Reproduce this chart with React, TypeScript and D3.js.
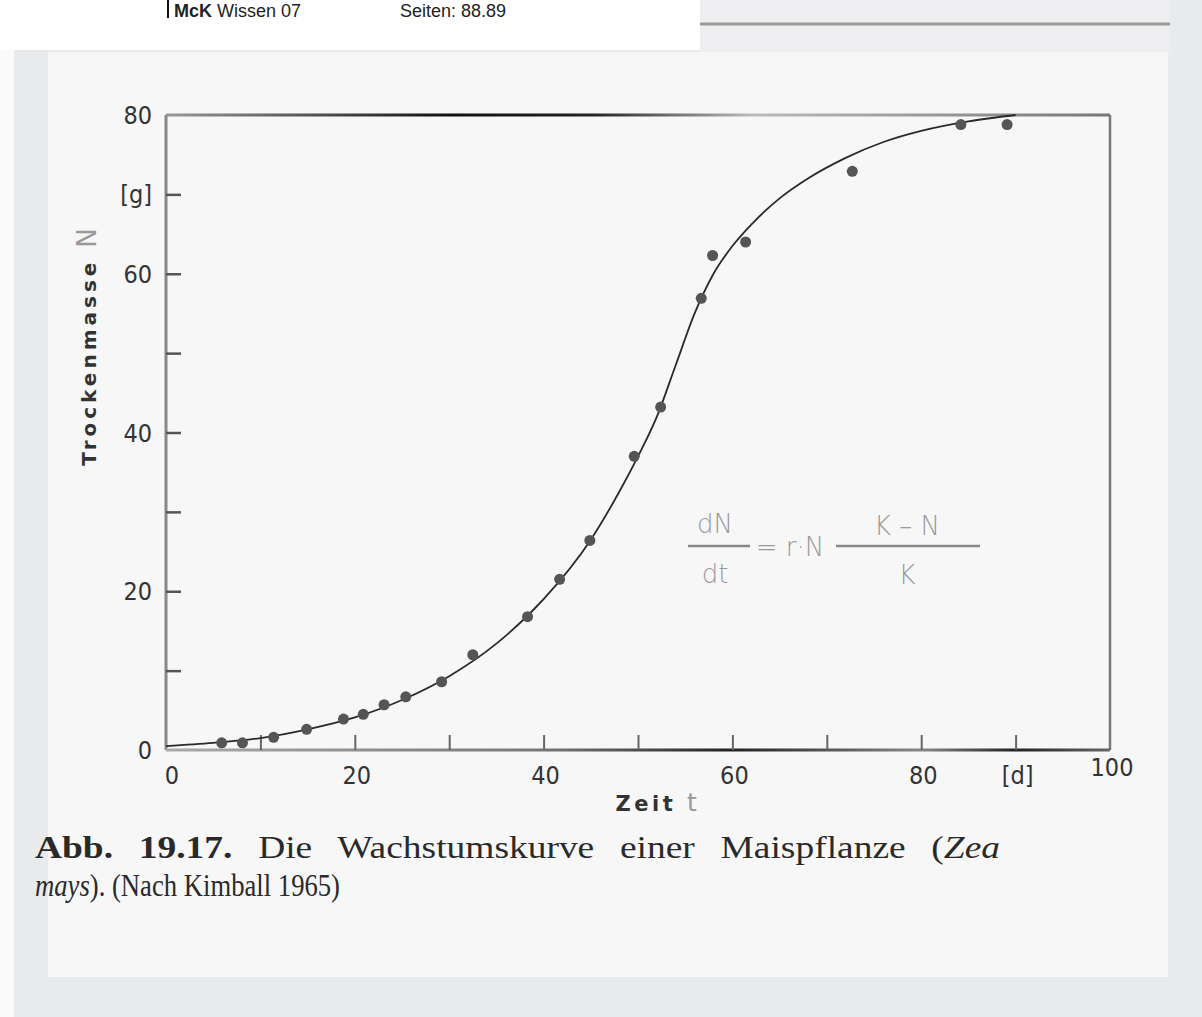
import React, { useEffect, useRef } from "react";
import * as d3 from "d3";

// measured dry mass of the maize plant (points)
const days = [5.9, 8.1, 11.4, 14.9, 18.8, 20.9, 23.1, 25.4, 29.2, 32.5, 38.3, 41.7, 44.9, 49.6, 52.4, 56.7, 57.9, 61.4, 72.7, 84.2, 89.1];
const mass = [0.9, 0.9, 1.6, 2.6, 3.9, 4.5, 5.7, 6.7, 8.6, 12.0, 16.8, 21.5, 26.4, 37.0, 43.2, 56.9, 62.3, 64.0, 72.9, 78.8, 78.8];

// the drawn growth curve
const curveDays = [0, 5, 10, 15, 20, 25, 30, 35, 40, 45, 48, 50, 52, 54, 56, 58, 60, 62, 65, 68, 72, 76, 80, 85, 90];
const curveMass = [0.5, 0.9, 1.5, 2.6, 4.1, 6.3, 9.3, 13.4, 19.0, 26.5, 32.5, 37.0, 42.0, 48.5, 55.0, 60.0, 63.5, 66.2, 69.5, 72.0, 74.6, 76.6, 78.0, 79.2, 80.0];

const xTickValues = [10, 20, 30, 40, 50, 60, 70, 80, 90];
const yTickValues = [10, 20, 30, 40, 50, 60, 70];
const xLabels = ["0", "20", "40", "60", "80", "[d]", "100"];
const xLabelPos = [0, 20, 40, 60, 80, 90, 100];
const yLabels = ["0", "20", "40", "60", "[g]", "80"];
const yLabelPos = [0, 20, 40, 60, 70, 80];

const W = 1202;
const H = 1017;

export default function App() {
  const xAxisRef = useRef<SVGGElement>(null);
  const yAxisRef = useRef<SVGGElement>(null);

  const x = d3.scaleLinear().domain([0, 100]).range([166, 1110]);
  const y = d3.scaleLinear().domain([0, 80]).range([750, 115]);

  const pts = days.map((d, i) => [d, mass[i]] as [number, number]);
  const fit = curveDays.map((d, i) => [d, curveMass[i]] as [number, number]);
  const line = d3
    .line<[number, number]>()
    .x((d) => x(d[0]))
    .y((d) => y(d[1]))
    .curve(d3.curveMonotoneX);

  useEffect(() => {
    // inner ticks only; labels are placed separately
    const xa = d3.axisTop(x).tickValues(xTickValues).tickSize(15).tickFormat(() => "");
    const ya = d3.axisRight(y).tickValues(yTickValues).tickSize(15).tickFormat(() => "");
    const gx = d3.select(xAxisRef.current).call(xa);
    const gy = d3.select(yAxisRef.current).call(ya);
    gx.select(".domain").remove();
    gy.select(".domain").remove();
    gx.selectAll("line").attr("stroke", "#666").attr("stroke-width", 2);
    gy.selectAll("line").attr("stroke", "#555").attr("stroke-width", 2.5);
  }, []);

  const tickFont = "'Liberation Sans Narrow', 'DejaVu Sans Condensed', sans-serif";

  return (
    <svg width={W} height={H} style={{ position: "absolute", left: 0, top: 0 }}>
      <defs>
        <linearGradient id="topEdge" gradientUnits="userSpaceOnUse" x1={166} x2={1110} y1={0} y2={0}>
          <stop offset="0" stopColor="#999" />
          <stop offset="0.3" stopColor="#111" />
          <stop offset="0.45" stopColor="#222" />
          <stop offset="0.62" stopColor="#bbb" />
          <stop offset="1" stopColor="#777" />
        </linearGradient>
        <linearGradient id="botEdge" gradientUnits="userSpaceOnUse" x1={166} x2={1110} y1={0} y2={0}>
          <stop offset="0" stopColor="#aaa" />
          <stop offset="0.4" stopColor="#777" />
          <stop offset="0.6" stopColor="#222" />
          <stop offset="0.8" stopColor="#888" />
          <stop offset="0.9" stopColor="#222" />
          <stop offset="1" stopColor="#666" />
        </linearGradient>
      </defs>

      {/* scanned page */}
      <rect x={0} y={0} width={W} height={H} fill="#e9eaec" />
      <rect x={0} y={0} width={14} height={H} fill="#fafafa" />
      <rect x={48} y={52} width={1120} height={925} fill="#f7f7f8" />
      <rect x={700} y={0} width={470} height={52} fill="#eeeef0" />
      <line x1={700} x2={1170} y1={24} y2={24} stroke="#9a9a9a" strokeWidth={3} />
      <rect x={0} y={0} width={700} height={50} fill="#ffffff" />

      {/* page header */}
      <g fontFamily="'Liberation Sans', Arial, sans-serif" fontSize={18} fill="#222">
        <rect x={167} y={0} width={2} height={18} fill="#111" />
        <text x={174} y={17}>
          <tspan fontWeight="bold">McK</tspan> Wissen 07
        </text>
        <text x={400} y={17}>Seiten: 88.89</text>
      </g>

      {/* frame */}
      <line x1={x(0)} x2={x(100)} y1={y(80)} y2={y(80)} stroke="url(#topEdge)" strokeWidth={3} />
      <line x1={x(100)} x2={x(100)} y1={y(80)} y2={y(0)} stroke="#777" strokeWidth={2.5} />
      <line x1={x(0)} x2={x(0)} y1={y(80)} y2={y(0)} stroke="#888" strokeWidth={3} />
      <line x1={x(0)} x2={x(100)} y1={y(0)} y2={y(0)} stroke="url(#botEdge)" strokeWidth={3} />
      <g ref={xAxisRef} transform={`translate(0,${y(0)})`} />
      <g ref={yAxisRef} transform={`translate(${x(0)},0)`} />

      {/* tick labels */}
      <g fontFamily={tickFont} fontSize={25} fill="#333">
        {xLabels.map((l, i) => (
          <text
            key={l}
            x={x(xLabelPos[i]) + (xLabelPos[i] === 0 ? 6 : 2)}
            y={y(0) + 34 - (xLabelPos[i] === 100 ? 8 : 0)}
            textAnchor="middle"
          >
            {l}
          </text>
        ))}
        {yLabels.map((l, i) => (
          <text key={l} x={x(0) - 14} y={y(yLabelPos[i]) + 9} textAnchor="end">
            {l}
          </text>
        ))}
      </g>

      {/* axis titles */}
      <g transform={`translate(96,345) rotate(-90)`} fontFamily="'DejaVu Sans', sans-serif">
        <text x={0} y={0} textAnchor="middle" fontSize={20} fontWeight="bold" fill="#333" letterSpacing={4}>
          Trockenmasse{" "}
          <tspan fontWeight="normal" fill="#999" fontSize={26}>N</tspan>
        </text>
      </g>
      <text x={658} y={811} textAnchor="middle" fontFamily="'DejaVu Sans', sans-serif" fontSize={21} fontWeight="bold" fill="#333" letterSpacing={3.5}>
        Zeit <tspan fontWeight="normal" fill="#999" fontSize={25}>t</tspan>
      </text>

      {/* logistic equation */}
      <g fontFamily="'DejaVu Sans', sans-serif" fill="#9a9a9a" fontSize={26} fontWeight={300}>
        <text x={715} y={533} textAnchor="middle">dN</text>
        <line x1={688} x2={750} y1={546} y2={546} stroke="#888" strokeWidth={2.5} />
        <text x={715} y={583} textAnchor="middle">dt</text>
        <text x={790} y={556} textAnchor="middle">= r·N</text>
        <text x={907} y={535} textAnchor="middle">K – N</text>
        <line x1={836} x2={980} y1={546} y2={546} stroke="#888" strokeWidth={2.5} />
        <text x={907} y={584} textAnchor="middle">K</text>
      </g>

      {/* fitted curve and measurements */}
      <path d={line(fit) ?? ""} fill="none" stroke="#2a2a2a" strokeWidth={1.8} />
      {pts.map((p, i) => (
        <circle key={i} cx={x(p[0])} cy={y(p[1])} r={5.5} fill="#555" />
      ))}

      {/* caption */}
      <g fontFamily="'Liberation Serif', 'Times New Roman', serif" fontSize={32} fill="#2a2a2a">
        <text x={35} y={858} wordSpacing={14} textLength={965} lengthAdjust="spacingAndGlyphs">
          <tspan fontWeight="bold">Abb. 19.17.</tspan> Die Wachstumskurve einer Maispflanze (<tspan fontStyle="italic">Zea</tspan>
        </text>
        <g transform="translate(35,0) scale(0.86,1)">
          <text x={0} y={896} fontSize={31}>
            <tspan fontStyle="italic">mays</tspan>). (Nach Kimball 1965)
          </text>
        </g>
      </g>
    </svg>
  );
}
